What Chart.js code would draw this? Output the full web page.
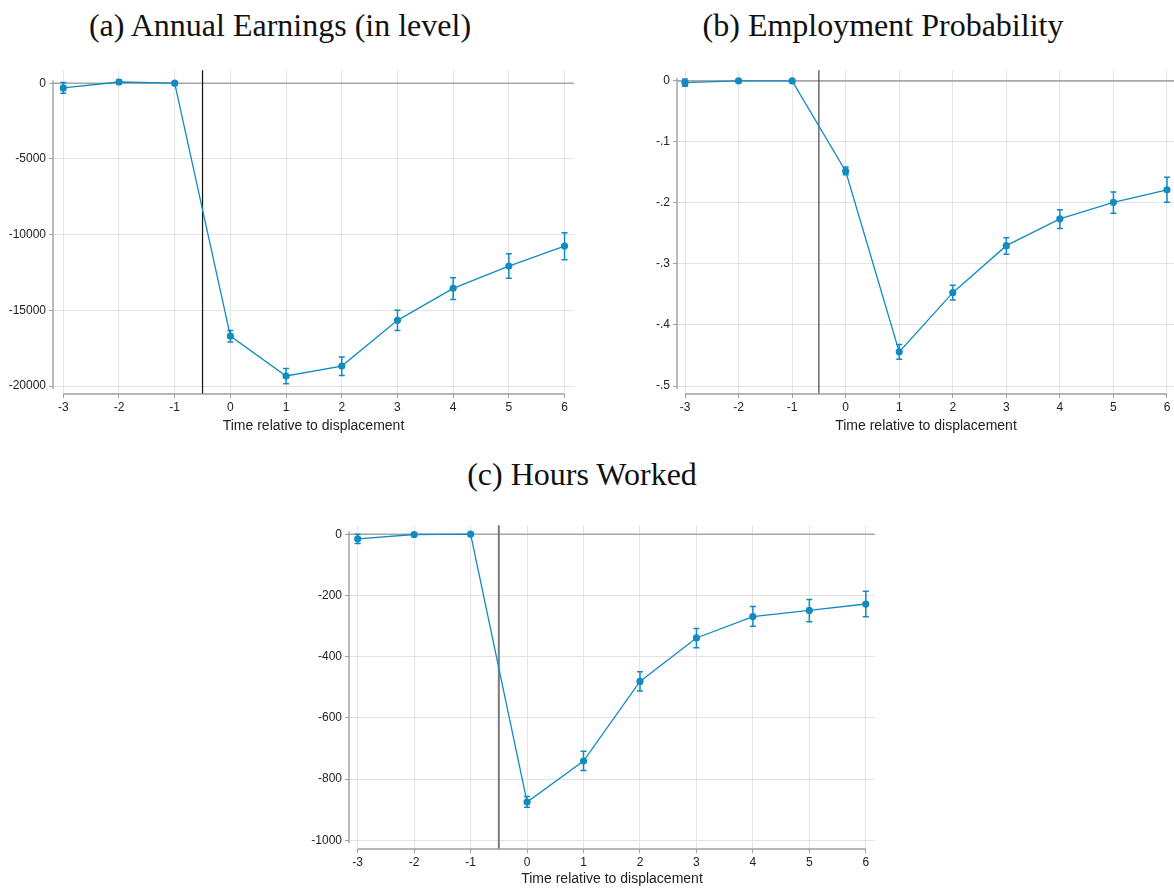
<!DOCTYPE html>
<html>
<head>
<meta charset="utf-8">
<script src="https://cdn.jsdelivr.net/npm/chart.js@4.4.1/dist/chart.umd.min.js"></script>
<style>
  body { margin: 0; width: 1174px; height: 888px; overflow: hidden; background: #fff; position: relative; }
  .ttl { position: absolute; font-family: "Liberation Serif", serif; font-size: 32px; color: #111;
         white-space: nowrap; transform: translateX(-50%); line-height: 1; }
  .box { position: absolute; }
</style>
</head>
<body>
<div class="ttl" style="left:280px;top:9px">(a) Annual Earnings (in level)</div>
<div class="ttl" style="left:883px;top:9px">(b) Employment Probability</div>
<div class="ttl" style="left:582px;top:458px">(c) Hours Worked</div>

<div class="box" style="left:0px;top:60px"><canvas id="earnChart" width="580" height="380"></canvas></div>
<div class="box" style="left:624px;top:60px"><canvas id="empChart" width="557" height="380"></canvas></div>
<div class="box" style="left:296px;top:515px"><canvas id="hoursChart" width="585" height="373"></canvas></div>

<script>
// event time
const periods = [-3, -2, -1, 0, 1, 2, 3, 4, 5, 6];

// (a) annual earnings, point estimate and 95% CI
const earnings   = [-310, 80, 0, -16700, -19340, -18680, -15665, -13550, -12080, -10760];
const earningsLo = [-660, -60, 0, -17100, -19850, -19300, -16330, -14280, -12890, -11660];
const earningsHi = [40, 220, 0, -16330, -18850, -18090, -15000, -12850, -11260, -9880];
const earnTicks  = [0, -5000, -10000, -15000, -20000];

// (b) employment probability
const employment   = [-0.003, 0, 0, -0.148, -0.444, -0.347, -0.270, -0.226, -0.199, -0.1785];
const employmentLo = [-0.009, -0.002, 0, -0.154, -0.456, -0.359, -0.284, -0.242, -0.217, -0.199];
const employmentHi = [0.003, 0.002, 0, -0.141, -0.432, -0.335, -0.257, -0.211, -0.182, -0.158];
const empTicks     = [0, -0.1, -0.2, -0.3, -0.4, -0.5];

// (c) hours worked
const hours   = [-15, -1, 0, -875, -741, -481, -339, -269, -249, -228];
const hoursLo = [-30, -4, 0, -892, -772, -512, -371, -301, -286, -270];
const hoursHi = [0, 2, 0, -857, -709, -449, -308, -236, -213, -186];
const hoursTicks = [0, -200, -400, -600, -800, -1000];

const xTicks = [-3, -2, -1, 0, 1, 2, 3, 4, 5, 6];
const eventLine = -0.5;
const zeroLine = 0;

const blue = 'rgb(18,139,192)';
const tickFont = { family: 'Liberation Sans, Arial, sans-serif', size: 12 };

// error bars, reference lines and Stata-like axis lines
const stataBits = {
    id: 'stataBits',
    beforeDatasetsDraw(chart, args, opts) {
        const { ctx, chartArea: a, scales: { x, y } } = chart;
        ctx.save();
        // y = 0 line
        ctx.strokeStyle = '#a6a6a6';
        ctx.lineWidth = 1.6;
        ctx.beginPath();
        ctx.moveTo(a.left, y.getPixelForValue(zeroLine));
        ctx.lineTo(a.right, y.getPixelForValue(zeroLine));
        ctx.stroke();
        // displacement line
        const vx = x.getPixelForValue(eventLine);
        ctx.strokeStyle = opts.vColor;
        ctx.lineWidth = opts.vWidth;
        ctx.beginPath();
        ctx.moveTo(vx, a.top);
        ctx.lineTo(vx, a.bottom);
        ctx.stroke();
        // axis lines over tick range
        ctx.strokeStyle = '#a0a0a0';
        ctx.lineWidth = 1.4;
        const yt = opts.yTicks;
        ctx.beginPath();
        ctx.moveTo(a.left, y.getPixelForValue(Math.max(...yt)) - 3);
        ctx.lineTo(a.left, y.getPixelForValue(Math.min(...yt)) + 3);
        ctx.moveTo(x.getPixelForValue(xTicks[0]), a.bottom);
        ctx.lineTo(x.getPixelForValue(xTicks[xTicks.length - 1]), a.bottom);
        ctx.stroke();
        // confidence intervals
        ctx.strokeStyle = blue;
        ctx.lineWidth = 1.5;
        opts.lo.forEach((lo, i) => {
            const px = x.getPixelForValue(periods[i]);
            const p1 = y.getPixelForValue(lo);
            const p2 = y.getPixelForValue(opts.hi[i]);
            ctx.beginPath();
            ctx.moveTo(px, p1); ctx.lineTo(px, p2);
            ctx.moveTo(px - 3, p1); ctx.lineTo(px + 3, p1);
            ctx.moveTo(px - 3, p2); ctx.lineTo(px + 3, p2);
            ctx.stroke();
        });
        ctx.restore();
    }
};

function stataLabel(v) {
    if (v === 0) return '0';
    return String(Math.round(v * 1000) / 1000).replace('0.', '.');
}

function makePanel(id, ys, lo, hi, yTicks, r) {
    return new Chart(document.getElementById(id), {
        type: 'scatter',
        data: {
            datasets: [{
                data: periods.map((p, i) => ({ x: p, y: ys[i] })),
                showLine: true,
                borderColor: blue,
                borderWidth: 1.3,
                backgroundColor: blue,
                pointRadius: 3.6,
                pointBorderWidth: 0,
                pointBackgroundColor: blue
            }]
        },
        options: {
            responsive: false,
            animation: false,
            layout: { padding: { top: 10, right: r.padRight, left: 0, bottom: 0 } },
            plugins: {
                legend: { display: false },
                tooltip: { enabled: false },
                stataBits: { lo: lo, hi: hi, yTicks: yTicks, vColor: r.vColor, vWidth: r.vWidth }
            },
            scales: {
                x: {
                    type: 'linear',
                    min: r.xmin, max: r.xmax,
                    afterBuildTicks: s => { s.ticks = xTicks.map(v => ({ value: v })); },
                    afterFit: s => { s.height = r.xAxisH; },
                    grid: { color: '#e3e3e3', lineWidth: 1, tickLength: 4, tickColor: '#a0a0a0' },
                    border: { display: false },
                    ticks: { font: tickFont, color: '#222', padding: 2, maxRotation: 0 },
                    title: {
                        display: true, text: 'Time relative to displacement',
                        font: { family: 'Liberation Sans, Arial, sans-serif', size: 14 },
                        color: '#222', padding: { top: 0, bottom: r.titlePad }
                    }
                },
                y: {
                    min: r.ymin, max: r.ymax,
                    afterBuildTicks: s => { s.ticks = yTicks.map(v => ({ value: v })); },
                    afterFit: s => { s.width = 53; },
                    grid: { color: '#e3e3e3', lineWidth: 1, tickLength: 4, tickColor: '#a0a0a0' },
                    border: { display: false },
                    ticks: { font: tickFont, color: '#222', padding: 3, callback: v => stataLabel(v) }
                }
            }
        },
        plugins: [stataBits]
    });
}

makePanel('earnChart', earnings, earningsLo, earningsHi, earnTicks,
    { xmin: -3.185, xmax: 6.17, ymin: -20528, ymax: 858, xAxisH: 46, padRight: 6, titlePad: 5,
      vColor: '#111', vWidth: 1.2 });
makePanel('empChart', employment, employmentLo, employmentHi, empTicks,
    { xmin: -3.15, xmax: 6.15, ymin: -0.5131, ymax: 0.0175, xAxisH: 46, padRight: 6, titlePad: 5,
      vColor: '#444', vWidth: 1.2 });
makePanel('hoursChart', hours, hoursLo, hoursHi, hoursTicks,
    { xmin: -3.154, xmax: 6.163, ymin: -1028.4, ymax: 29.4, xAxisH: 39, padRight: 6, titlePad: 0,
      vColor: '#7a7a7a', vWidth: 2 });
</script>
</body>
</html>
